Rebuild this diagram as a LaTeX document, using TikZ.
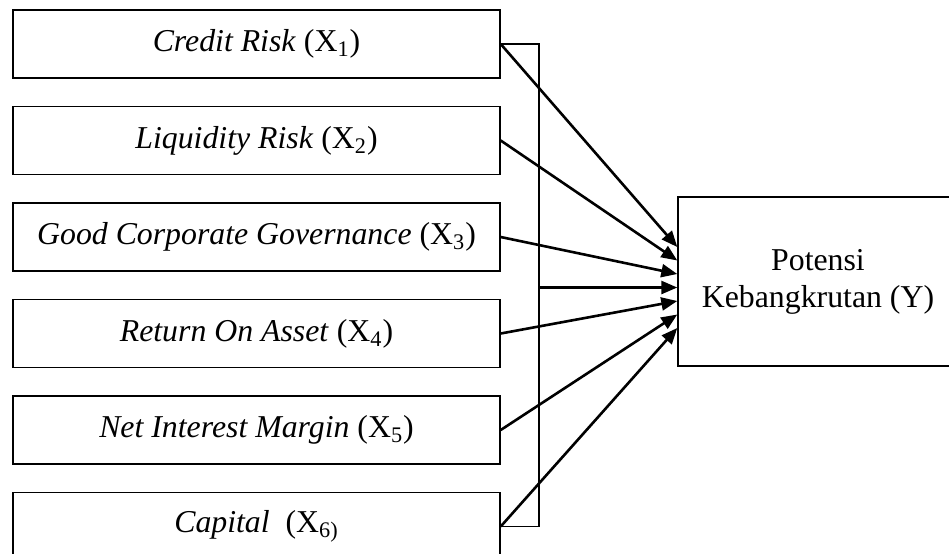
\documentclass[tikz,border=0pt]{standalone}
\usepackage{fontspec}
\setmainfont{Liberation Serif}
\usetikzlibrary{arrows.meta,positioning,calc}
\tikzset{
  varbox/.style={draw=black, line width=0.7pt, minimum width=243.5pt, minimum height=34pt, inner sep=0pt, font=\fontsize{15.9}{19}\selectfont},
  ybox/.style={draw=black, line width=0.7pt, minimum width=140pt, minimum height=84.5pt, inner sep=0pt, align=center, font=\fontsize{15.9}{18.5}\selectfont},
  arrow/.style={-{Triangle[length=8pt, width=6.5pt]}, line width=1.3pt},
  bar/.style={line width=0.7pt},
}

\begin{document}
\begin{tikzpicture}[x=0.5pt,y=-0.5pt]
  \clip (0,0) rectangle (949,553);
  % independent variables
  \node[varbox] (x1) at (256.5,44)    {\textit{Credit Risk} (X\textsubscript{1})};
  \node[varbox] (x2) at (256.5,140.5) {\textit{Liquidity Risk} (X\textsubscript{2})};
  \node[varbox] (x3) at (256.5,237)   {\textit{Good Corporate Governance} (X\textsubscript{3})};
  \node[varbox] (x4) at (256.5,333.5) {\textit{Return On Asset} (X\textsubscript{4})};
  \node[varbox] (x5) at (256.5,430)   {\textit{Net Interest Margin} (X\textsubscript{5})};
  \node[varbox] (x6) at (256.5,526.5) {\textit{Capital}\ \ (X\textsubscript{6)}};
  % dependent variable
  \node[ybox] (y) at (818,281.5) {Potensi\\Kebangkrutan (Y)};
  % simultaneous bracket
  \coordinate (bt) at (539,44);
  \coordinate (bb) at (539,526.5);
  \coordinate (bm) at (539,287.5);
  \draw[bar] (x1.east) -- (bt) -- (bb) -- (x6.east);
  \foreach \n/\k in {x1/1,x2/2,x3/3,bm/4,x4/5,x5/6,x6/7}{
    \draw[arrow] (\n.east) -- ($(y.west)+(0,{6+13.5*(\k-4)})$);
  }
\end{tikzpicture}
\end{document}
